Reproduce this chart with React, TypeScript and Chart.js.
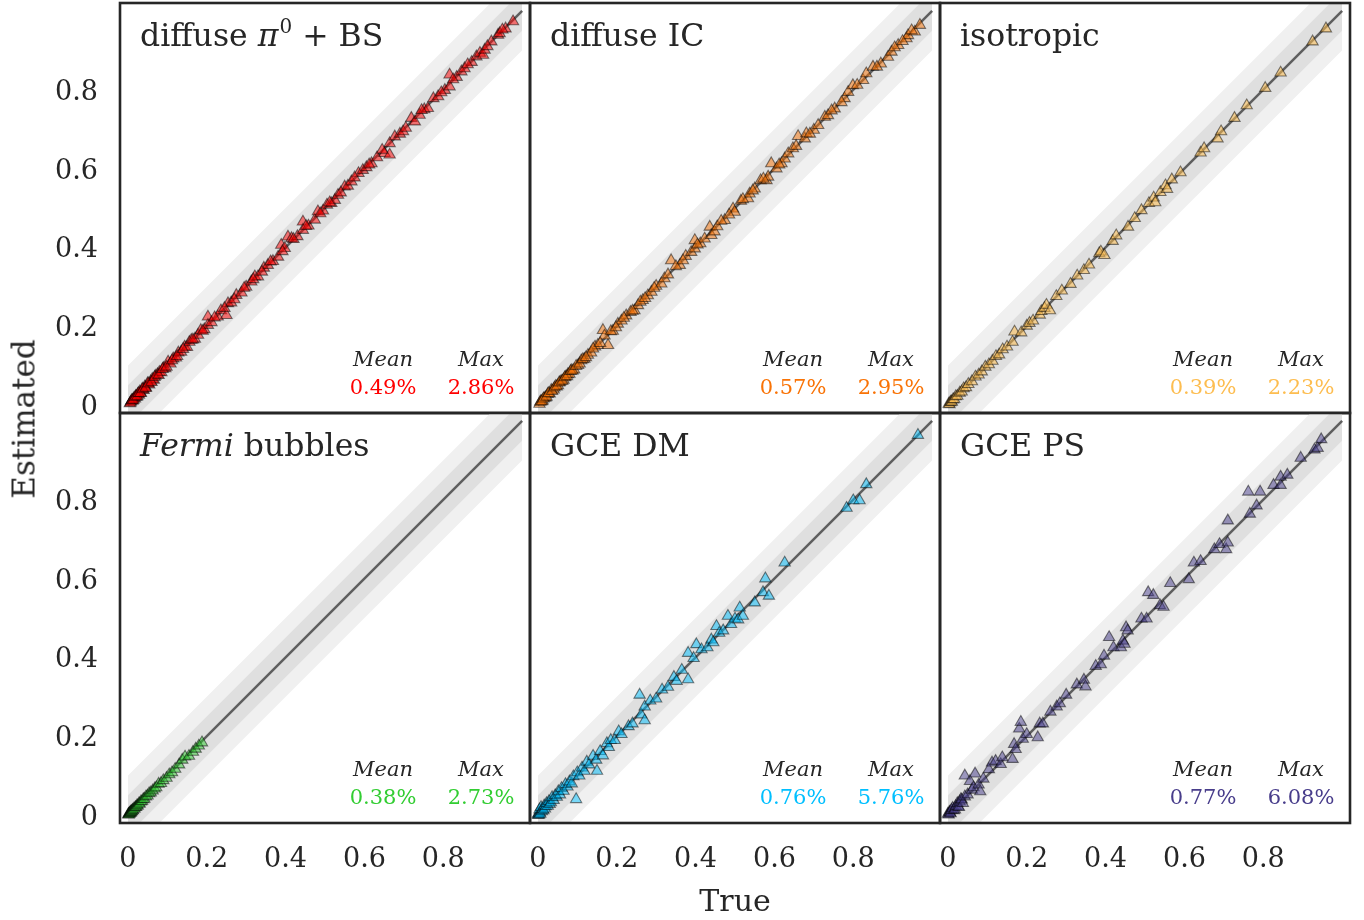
import React, { useEffect, useRef } from "react";
import { Chart, registerables } from "chart.js";
Chart.register(...registerables);

// ---------- data ----------
const tickValues = [0, 0.2, 0.4, 0.6, 0.8];
const tickLabels = ["0", "0.2", "0.4", "0.6", "0.8"];
const axisMin = -0.02;
const axisMax = 1.02;
const diagonalX = [0, 1];
const innerBand = 0.05;
const outerBand = 0.1;

const panelNames = [
  [{ t: "diffuse ", s: "n" }, { t: "π", s: "i" }, { t: "0", s: "sup" }, { t: " + BS", s: "n" }],
  [{ t: "diffuse IC", s: "n" }],
  [{ t: "isotropic", s: "n" }],
  [{ t: "Fermi", s: "i" }, { t: " bubbles", s: "n" }],
  [{ t: "GCE DM", s: "n" }],
  [{ t: "GCE PS", s: "n" }],
];
const panelColors = ["#ff0000", "#f97306", "#fdbd50", "#32cd32", "#00bfff", "#483d8b"];
const panelFills = [
  "rgba(255,0,0,0.5)",
  "rgba(249,115,6,0.5)",
  "rgba(253,189,80,0.55)",
  "rgba(50,205,50,0.5)",
  "rgba(0,191,255,0.5)",
  "rgba(72,61,139,0.5)",
];
const meanErrors = ["0.49%", "0.57%", "0.39%", "0.38%", "0.76%", "0.77%"];
const maxErrors = ["2.86%", "2.95%", "2.23%", "2.73%", "5.76%", "6.08%"];

const pi0True = [0.005,0.008,0.010,0.012,0.015,0.018,0.020,0.022,0.025,0.028,
  0.030,0.033,0.036,0.040,0.043,0.046,0.050,0.054,0.058,0.062,
  0.066,0.070,0.075,0.080,0.085,0.090,0.095,0.102,0.108,0.115,
  0.122,0.128,0.135,0.144,0.150,0.156,0.161,0.170,0.178,0.185,
  0.194,0.203,0.203,0.212,0.228,0.236,0.250,0.254,0.262,0.275,
  0.288,0.300,0.313,0.322,0.330,0.345,0.355,0.368,0.381,0.389,
  0.398,0.406,0.415,0.430,0.444,0.444,0.458,0.474,0.482,0.495,
  0.505,0.516,0.525,0.533,0.550,0.558,0.567,0.585,0.596,0.605,
  0.618,0.632,0.651,0.664,0.664,0.677,0.690,0.698,0.719,0.728,
  0.740,0.752,0.761,0.775,0.787,0.804,0.816,0.816,0.834,0.846,
  0.854,0.872,0.884,0.893,0.901,0.905,0.922,0.939,0.943,0.958,0.977,
  0.007,0.011,0.014,0.019,0.024,0.027,0.032,0.038,0.045,0.052,
  0.060,0.068,0.078,0.088,0.098,0.112,0.125,0.140,0.165,0.190,
  0.220,0.245,0.270,0.295,0.318,0.340,0.362,0.392,0.420,0.452,
  0.488,0.512,0.540,0.575,0.612,0.645,0.705,0.745,0.795,0.825,
  0.862,0.912,0.950];
const pi0Est = [0.004,0.009,0.012,0.011,0.017,0.016,0.023,0.021,0.028,0.026,
  0.034,0.031,0.040,0.038,0.047,0.044,0.055,0.052,0.060,0.066,
  0.064,0.074,0.078,0.084,0.083,0.094,0.093,0.110,0.105,0.118,
  0.120,0.133,0.135,0.148,0.147,0.160,0.165,0.168,0.178,0.190,
  0.192,0.224,0.203,0.210,0.224,0.240,0.228,0.258,0.260,0.279,
  0.285,0.300,0.313,0.326,0.326,0.348,0.355,0.365,0.376,0.406,
  0.398,0.427,0.423,0.428,0.465,0.444,0.455,0.470,0.491,0.493,
  0.508,0.512,0.520,0.533,0.554,0.556,0.567,0.588,0.596,0.603,
  0.613,0.628,0.639,0.664,0.635,0.681,0.688,0.694,0.728,0.719,
  0.736,0.750,0.753,0.778,0.783,0.799,0.838,0.808,0.832,0.846,
  0.854,0.870,0.884,0.893,0.888,0.901,0.922,0.939,0.943,0.955,0.973,
  0.006,0.013,0.013,0.021,0.022,0.030,0.030,0.041,0.043,0.055,
  0.058,0.071,0.076,0.091,0.097,0.113,0.124,0.142,0.166,0.188,
  0.222,0.246,0.268,0.297,0.319,0.338,0.364,0.390,0.421,0.454,
  0.486,0.514,0.539,0.577,0.610,0.647,0.703,0.748,0.793,0.826,
  0.864,0.910,0.952];

const icTrue = [0.004,0.008,0.012,0.016,0.020,0.025,0.030,0.034,0.040,0.045,
  0.051,0.056,0.059,0.065,0.070,0.076,0.080,0.085,0.092,0.102,
  0.110,0.118,0.127,0.135,0.145,0.152,0.165,0.169,0.178,0.190,
  0.203,0.212,0.224,0.235,0.245,0.254,0.266,0.279,0.288,0.300,
  0.313,0.321,0.338,0.360,0.375,0.389,0.398,0.398,0.412,0.423,
  0.436,0.440,0.448,0.474,0.495,0.499,0.515,0.533,0.537,0.550,
  0.565,0.580,0.584,0.592,0.605,0.618,0.626,0.635,0.647,0.660,
  0.677,0.681,0.700,0.711,0.728,0.736,0.753,0.778,0.787,0.799,
  0.825,0.833,0.850,0.870,0.888,0.897,0.914,0.935,0.939,0.956,0.969,
  0.006,0.010,0.014,0.022,0.027,0.036,0.042,0.048,0.054,0.062,
  0.068,0.074,0.083,0.088,0.097,0.106,0.114,0.122,0.140,0.158,
  0.185,0.198,0.218,0.240,0.260,0.272,0.295,0.330,0.350,0.368,
  0.405,0.455,0.465,0.485,0.520,0.545,0.572,0.612,0.655,0.690,
  0.745,0.770,0.810,0.860,0.905,0.925,0.948];
const icEst = [0.003,0.010,0.011,0.018,0.019,0.028,0.029,0.038,0.039,0.048,
  0.050,0.058,0.061,0.064,0.072,0.078,0.079,0.088,0.090,0.101,
  0.113,0.117,0.127,0.133,0.148,0.152,0.190,0.176,0.152,0.188,
  0.206,0.214,0.227,0.236,0.240,0.253,0.266,0.278,0.287,0.302,
  0.308,0.321,0.367,0.355,0.378,0.388,0.397,0.418,0.410,0.422,
  0.452,0.431,0.440,0.469,0.498,0.490,0.518,0.524,0.536,0.549,
  0.570,0.570,0.579,0.613,0.600,0.613,0.625,0.638,0.651,0.682,
  0.676,0.689,0.698,0.710,0.731,0.735,0.752,0.778,0.794,0.811,
  0.824,0.841,0.858,0.866,0.883,0.896,0.913,0.930,0.938,0.947,0.964,
  0.008,0.009,0.016,0.021,0.030,0.035,0.044,0.047,0.057,0.061,
  0.070,0.073,0.086,0.087,0.099,0.105,0.116,0.121,0.143,0.157,
  0.187,0.197,0.221,0.239,0.262,0.271,0.297,0.331,0.352,0.367,
  0.407,0.453,0.467,0.483,0.522,0.544,0.574,0.610,0.657,0.688,
  0.747,0.768,0.812,0.858,0.907,0.923,0.950];

const isoTrue = [0.002,0.004,0.006,0.008,0.010,0.013,0.016,0.020,0.024,0.030,
  0.035,0.040,0.046,0.052,0.061,0.070,0.078,0.086,0.095,0.104,
  0.113,0.122,0.130,0.139,0.150,0.164,0.169,0.186,0.200,0.207,
  0.216,0.233,0.237,0.245,0.250,0.259,0.275,0.289,0.311,0.328,
  0.345,0.358,0.384,0.388,0.397,0.418,0.427,0.457,0.474,0.491,
  0.510,0.522,0.526,0.539,0.552,0.556,0.568,0.590,0.641,0.650,
  0.684,0.693,0.727,0.758,0.805,0.844,0.925,0.959];
const isoEst = [0.003,0.002,0.007,0.009,0.008,0.014,0.015,0.022,0.023,0.031,
  0.034,0.042,0.045,0.053,0.060,0.072,0.077,0.085,0.097,0.103,
  0.112,0.124,0.128,0.141,0.148,0.160,0.186,0.184,0.201,0.208,
  0.214,0.229,0.238,0.246,0.254,0.240,0.276,0.290,0.307,0.328,
  0.342,0.356,0.385,0.389,0.380,0.416,0.430,0.452,0.474,0.494,
  0.512,0.526,0.514,0.540,0.557,0.548,0.572,0.590,0.640,0.651,
  0.676,0.694,0.728,0.760,0.804,0.843,0.922,0.955];

const fermiTrue = [0.001,0.002,0.003,0.004,0.005,0.006,0.007,0.008,0.009,0.010,
  0.012,0.013,0.015,0.017,0.019,0.021,0.023,0.025,0.028,0.030,
  0.033,0.036,0.039,0.042,0.046,0.050,0.054,0.058,0.063,0.068,
  0.072,0.078,0.084,0.090,0.098,0.105,0.112,0.120,0.130,0.138,
  0.145,0.155,0.165,0.172,0.180,0.188];
const fermiEst = [0.002,0.001,0.004,0.003,0.006,0.005,0.008,0.007,0.010,0.009,
  0.013,0.012,0.016,0.016,0.020,0.020,0.024,0.024,0.029,0.029,
  0.034,0.035,0.040,0.041,0.047,0.049,0.055,0.057,0.062,0.067,
  0.070,0.079,0.081,0.088,0.094,0.103,0.108,0.117,0.128,0.140,
  0.148,0.150,0.160,0.168,0.176,0.184];

const dmTrue = [0.000,0.001,0.002,0.003,0.004,0.005,0.006,0.008,0.010,0.012,
  0.014,0.016,0.018,0.020,0.022,0.025,0.028,0.030,0.033,0.036,
  0.040,0.044,0.048,0.052,0.056,0.060,0.065,0.070,0.075,0.080,
  0.086,0.090,0.097,0.100,0.105,0.112,0.118,0.124,0.130,0.140,
  0.148,0.150,0.158,0.165,0.175,0.180,0.185,0.195,0.205,0.212,
  0.230,0.240,0.258,0.262,0.271,0.271,0.285,0.300,0.315,0.330,
  0.345,0.352,0.365,0.381,0.381,0.395,0.402,0.415,0.430,0.440,
  0.445,0.453,0.460,0.470,0.482,0.490,0.500,0.508,0.512,0.520,
  0.550,0.571,0.577,0.586,0.626,0.783,0.800,0.816,0.833,0.964];
const dmEst = [0.002,0.000,0.004,0.001,0.014,0.006,0.003,0.020,0.009,0.015,
  0.012,0.024,0.016,0.022,0.030,0.023,0.035,0.028,0.032,0.045,
  0.038,0.050,0.046,0.060,0.052,0.068,0.061,0.078,0.072,0.085,
  0.080,0.098,0.040,0.108,0.100,0.120,0.112,0.135,0.128,0.150,
  0.140,0.112,0.162,0.151,0.182,0.172,0.190,0.190,0.212,0.205,
  0.225,0.232,0.305,0.255,0.240,0.275,0.290,0.295,0.318,0.325,
  0.350,0.340,0.368,0.411,0.344,0.398,0.433,0.420,0.425,0.445,
  0.438,0.479,0.462,0.468,0.505,0.484,0.498,0.496,0.526,0.505,
  0.539,0.565,0.600,0.556,0.640,0.779,0.798,0.798,0.839,0.964];

const psTrue = [0.000,0.002,0.004,0.005,0.007,0.009,0.012,0.015,0.018,0.020,
  0.024,0.026,0.028,0.030,0.033,0.035,0.038,0.043,0.043,0.050,
  0.056,0.061,0.065,0.069,0.078,0.082,0.090,0.104,0.112,0.121,
  0.134,0.138,0.164,0.168,0.172,0.181,0.185,0.190,0.200,0.228,
  0.233,0.241,0.260,0.276,0.284,0.300,0.327,0.345,0.349,0.375,
  0.388,0.396,0.409,0.420,0.439,0.444,0.448,0.452,0.456,0.491,
  0.504,0.508,0.521,0.538,0.547,0.564,0.611,0.624,0.641,0.676,
  0.689,0.706,0.710,0.710,0.762,0.766,0.783,0.792,0.826,0.844,
  0.844,0.861,0.895,0.930,0.938,0.947];
const psEst = [0.003,0.001,0.008,0.006,0.004,0.013,0.018,0.012,0.014,0.022,
  0.030,0.022,0.020,0.034,0.040,0.039,0.030,0.047,0.100,0.052,
  0.086,0.064,0.070,0.105,0.077,0.060,0.092,0.116,0.133,0.137,
  0.129,0.146,0.142,0.180,0.167,0.219,0.236,0.193,0.205,0.197,
  0.232,0.232,0.262,0.275,0.283,0.305,0.331,0.343,0.326,0.378,
  0.382,0.404,0.451,0.425,0.425,0.442,0.434,0.476,0.468,0.498,
  0.498,0.565,0.558,0.532,0.528,0.588,0.598,0.640,0.644,0.674,
  0.687,0.674,0.691,0.747,0.820,0.764,0.785,0.820,0.837,0.837,
  0.858,0.863,0.906,0.927,0.931,0.953];

const trueSeries = [pi0True, icTrue, isoTrue, fermiTrue, dmTrue, psTrue];
const estSeries = [pi0Est, icEst, isoEst, fermiEst, dmEst, psEst];

// ---------- layout ----------
const FONT = "'DejaVu Serif'";
const INK = "#262626";
const PANEL = 410;
const GRID_LEFT = 120;
const GRID_TOP = 3;
const PAGE_H = 920;
const PAD = 4;

function zeroPad(s: any) {
  s.paddingTop = 0;
  s.paddingBottom = 0;
  s.paddingLeft = 0;
  s.paddingRight = 0;
}

function Panel({ idx }: { idx: number }) {
  const ref = useRef<HTMLCanvasElement>(null);
  const r = Math.floor(idx / 3);
  const c = idx % 3;
  const isLeft = c === 0;
  const isBottom = r === 1;
  const panelLeft = GRID_LEFT + c * PANEL;
  const panelTop = GRID_TOP + r * PANEL;
  const left = isLeft ? 0 : panelLeft - PAD;
  const top = panelTop - PAD;
  const width = isLeft ? panelLeft + PANEL + PAD : PANEL + 2 * PAD;
  const height = isBottom ? PAGE_H - top : PANEL + 2 * PAD;
  const xAxisH = PAGE_H - (GRID_TOP + 2 * PANEL);

  useEffect(() => {
    const xs = trueSeries[idx];
    const ys = estSeries[idx];
    const n = Math.min(xs.length, ys.length);
    const pts = [];
    for (let i = 0; i < n; i++) pts.push({ x: xs[i], y: ys[i] });

    const framePlugin = {
      id: "frame",
      afterDraw(chart: any) {
        const { ctx, chartArea: a } = chart;
        ctx.save();
        ctx.strokeStyle = INK;
        ctx.lineWidth = 2.6;
        ctx.strokeRect(a.left, a.top, a.right - a.left, a.bottom - a.top);
        ctx.restore();
      },
    };
    const textPlugin = {
      id: "panelText",
      afterDatasetsDraw(chart: any) {
        const { ctx, chartArea: a } = chart;
        ctx.save();
        ctx.textAlign = "left";
        ctx.textBaseline = "alphabetic";
        ctx.fillStyle = INK;
        let x = a.left + 20;
        const y = a.top + 43;
        for (const seg of panelNames[idx]) {
          const sup = seg.s === "sup";
          const size = sup ? 20 : 31.5;
          ctx.font = `${seg.s === "i" ? "italic " : ""}${size}px ${FONT}`;
          ctx.fillText(seg.t, x + (sup ? 1 : 0), y - (sup ? 13 : 0));
          x += ctx.measureText(seg.t).width + (sup ? 1 : 0);
        }
        ctx.textAlign = "center";
        ctx.font = `italic 21px ${FONT}`;
        ctx.fillText("Mean", a.left + 263, a.top + 363);
        ctx.fillText("Max", a.left + 361, a.top + 363);
        ctx.font = `21px ${FONT}`;
        ctx.fillStyle = panelColors[idx];
        ctx.fillText(meanErrors[idx], a.left + 263, a.top + 391);
        ctx.fillText(maxErrors[idx], a.left + 361, a.top + 391);
        ctx.restore();
      },
    };

    const tickFont = { family: FONT, size: 27 };
    const chart = new Chart(ref.current as HTMLCanvasElement, {
      type: "scatter",
      data: {
        datasets: [
          {
            type: "line",
            data: diagonalX.map((v) => ({ x: v, y: v + outerBand })),
            borderWidth: 0,
            borderColor: "rgba(0,0,0,0)",
            pointRadius: 0,
            fill: false,
            order: 5,
          },
          {
            type: "line",
            data: diagonalX.map((v) => ({ x: v, y: v - outerBand })),
            borderWidth: 0,
            borderColor: "rgba(0,0,0,0)",
            backgroundColor: "#f0f0f0",
            pointRadius: 0,
            fill: "-1",
            order: 5,
          },
          {
            type: "line",
            data: diagonalX.map((v) => ({ x: v, y: v + innerBand })),
            borderWidth: 0,
            borderColor: "rgba(0,0,0,0)",
            pointRadius: 0,
            fill: false,
            order: 4,
          },
          {
            type: "line",
            data: diagonalX.map((v) => ({ x: v, y: v - innerBand })),
            borderWidth: 0,
            borderColor: "rgba(0,0,0,0)",
            backgroundColor: "#dfdfdf",
            pointRadius: 0,
            fill: "-1",
            order: 4,
          },
          {
            type: "line",
            data: diagonalX.map((v) => ({ x: v, y: v })),
            borderWidth: 2.5,
            borderColor: "#5e5e5e",
            pointRadius: 0,
            fill: false,
            order: 2,
          },
          {
            type: "scatter",
            data: pts,
            pointStyle: "triangle",
            pointRadius: 6.5,
            backgroundColor: panelFills[idx],
            borderColor: "rgba(0,0,0,0.5)",
            borderWidth: 1.1,
            order: 1,
          },
        ] as any,
      },
      options: {
        animation: false,
        responsive: false,
        devicePixelRatio: 1,
        events: [],
        layout: {
          autoPadding: false,
          padding: { left: isLeft ? 0 : PAD, right: PAD, top: PAD, bottom: isBottom ? 0 : PAD },
        },
        plugins: { legend: { display: false }, tooltip: { enabled: false } },
        scales: {
          x: {
            type: "linear",
            min: axisMin,
            max: axisMax,
            grid: { display: false, drawTicks: false },
            border: { display: false },
            ticks: {
              display: isBottom,
              padding: 21,
              autoSkip: false,
              maxRotation: 0,
              font: tickFont,
              color: INK,
              callback: (_v: any, i: number) => tickLabels[i],
            },
            afterBuildTicks: (s: any) => {
              s.ticks = tickValues.map((v) => ({ value: v }));
            },
            afterFit: (s: any) => {
              s.height = isBottom ? xAxisH : 0;
              zeroPad(s);
            },
          },
          y: {
            type: "linear",
            min: axisMin,
            max: axisMax,
            grid: { display: false, drawTicks: false },
            border: { display: false },
            ticks: {
              display: isLeft,
              padding: 22,
              labelOffset: 3,
              autoSkip: false,
              font: tickFont,
              color: INK,
              callback: (_v: any, i: number) => tickLabels[i],
            },
            afterBuildTicks: (s: any) => {
              s.ticks = tickValues.map((v) => ({ value: v }));
            },
            afterFit: (s: any) => {
              s.width = isLeft ? GRID_LEFT : 0;
              zeroPad(s);
            },
          },
        },
      } as any,
      plugins: [framePlugin, textPlugin],
    });
    return () => chart.destroy();
  }, []);

  return (
    <canvas
      ref={ref}
      width={width}
      height={height}
      style={{ position: "absolute", left, top, width, height }}
    />
  );
}

export default function App() {
  return (
    <div
      style={{
        position: "absolute",
        left: 0,
        top: 0,
        width: 1364,
        height: 920,
        background: "#ffffff",
        overflow: "hidden",
      }}
    >
      {[0, 1, 2, 3, 4, 5].map((i) => (
        <Panel key={i} idx={i} />
      ))}
      <div
        style={{
          position: "absolute",
          left: 24,
          top: 419,
          transform: "translate(-50%, -50%) rotate(-90deg)",
          fontFamily: FONT,
          fontSize: 31,
          lineHeight: 1,
          color: INK,
          whiteSpace: "nowrap",
        }}
      >
        Estimated
      </div>
      <div
        style={{
          position: "absolute",
          left: 735,
          top: 901,
          transform: "translate(-50%, -50%)",
          fontFamily: FONT,
          fontSize: 30,
          lineHeight: 1,
          color: INK,
          whiteSpace: "nowrap",
        }}
      >
        True
      </div>
    </div>
  );
}
